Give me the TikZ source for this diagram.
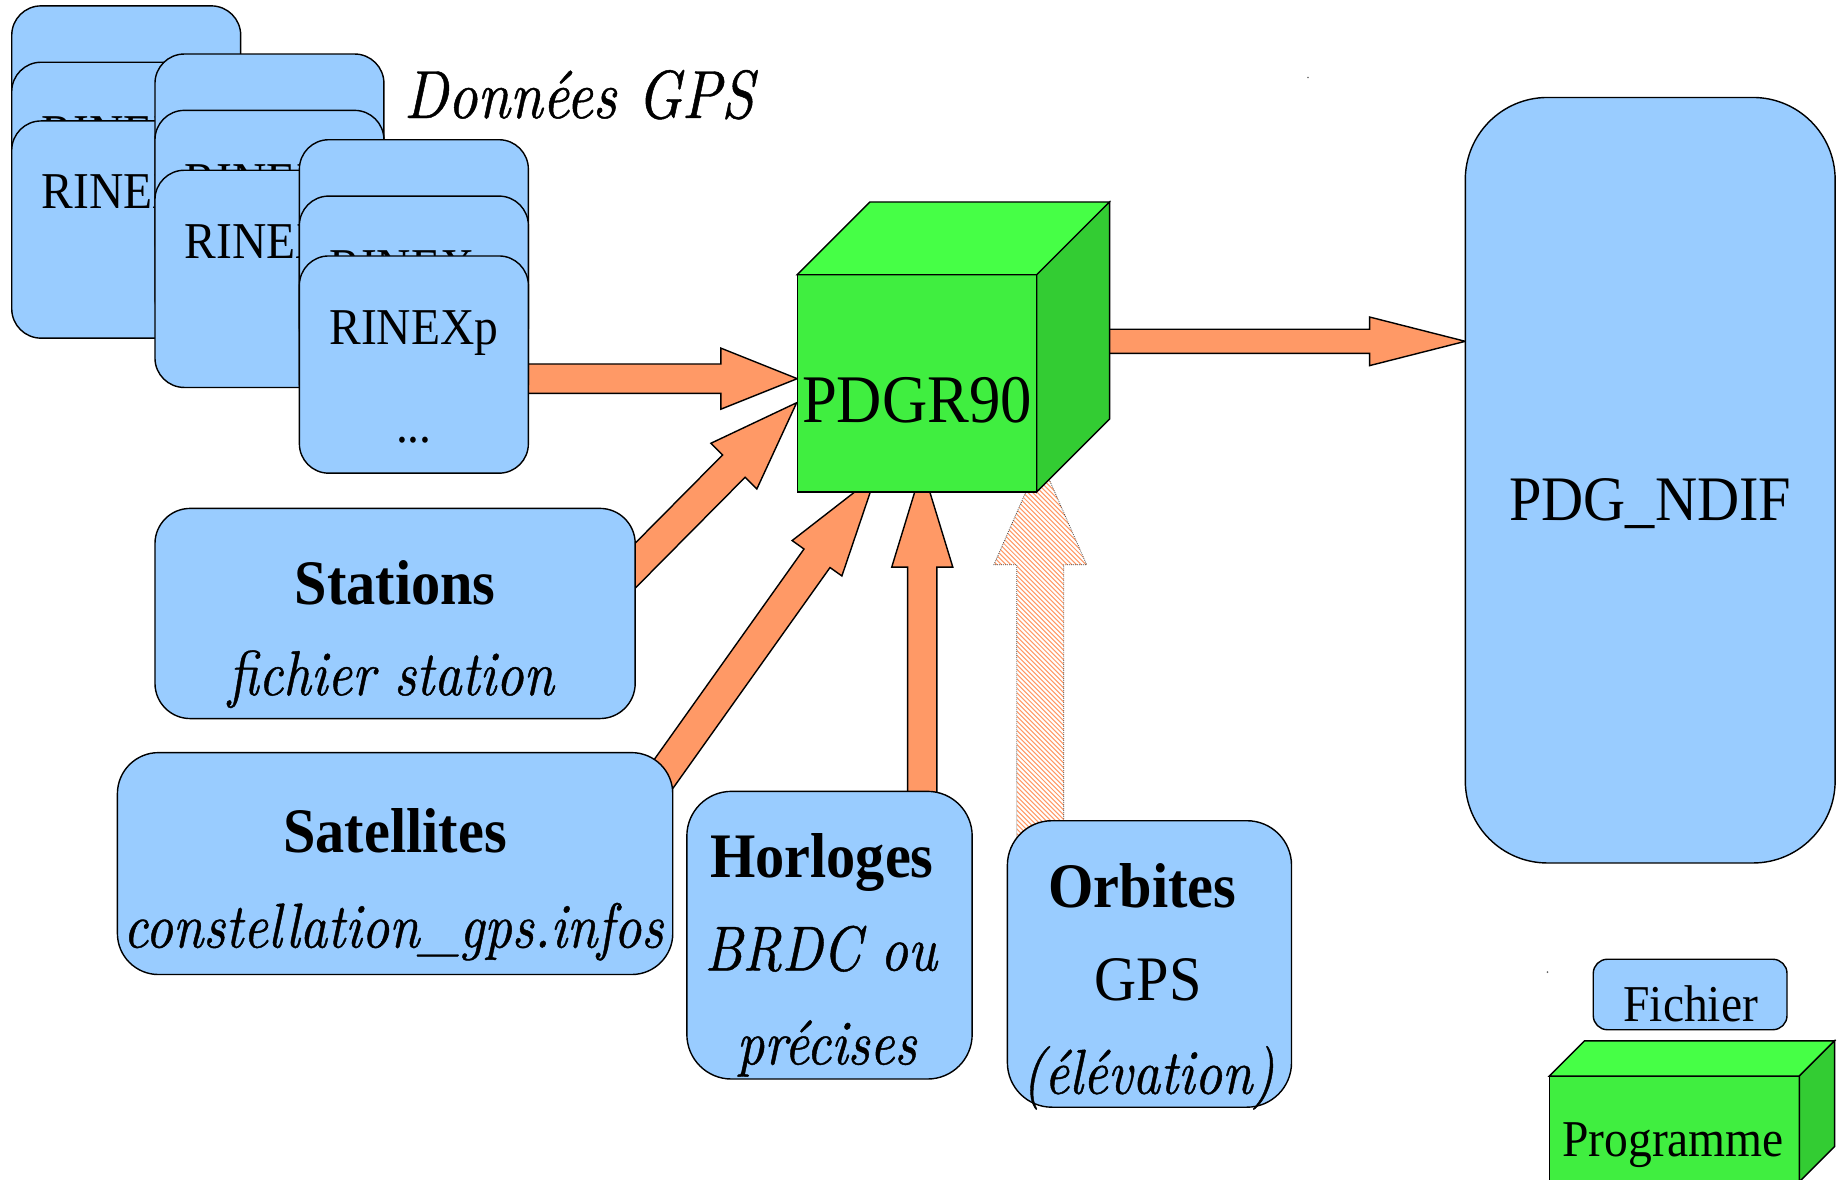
\documentclass[tikz,border=0pt]{standalone}
\usepackage{fontspec}
\setmainfont{Liberation Serif}[FakeStretch=0.92]
\newfontfamily\itfont{lmroman10-italic.otf}[FakeStretch=0.85, FakeBold=0.7]
\usetikzlibrary{calc}
\definecolor{fileblue}{RGB}{153,204,255}
\definecolor{arroworange}{RGB}{255,153,102}
\definecolor{cubetop}{RGB}{70,255,70}
\definecolor{cubefront}{RGB}{64,238,64}
\definecolor{cubeside}{RGB}{51,204,51}
\newcommand{\setfs}[1]{\fontsize{#1}{#1}\selectfont}
% #1 path command, #2 start, #3 tip, #4 shaft half width, #5 head half width, #6 head length
\newcommand{\blockarrow}[6]{%
  \coordinate (bahb) at ($(#3)!#6!(#2)$);
  #1 ($(#2)!#4!90:(#3)$) -- ($(bahb)!#4!-90:(#2)$) -- ($(bahb)!#5!-90:(#2)$)
    -- (#3) -- ($(bahb)!#5!90:(#2)$) -- ($(bahb)!#4!90:(#2)$) -- ($(#2)!#4!-90:(#3)$) -- cycle;
}
\tikzset{
  filebox/.style={draw=black, line width=1.2pt, fill=fileblue, rectangle, anchor=north west, inner sep=0pt, outer sep=0pt},
  cubeface/.style={draw=black, line width=1.2pt, line join=miter},
  txt/.style={inner sep=0pt, anchor=base},
  arrowfill/.style={draw=black, line width=1.2pt, fill=arroworange, line join=miter},
  hatchline/.style={draw=arroworange, line width=0.9pt},
  hatchoutline/.style={draw=black!70, densely dotted, line width=0.7pt},
}
\begin{document}
\begin{tikzpicture}[x=1pt,y=-1pt]
\path[use as bounding box, fill=white] (0,0) rectangle (1568,1005);
\clip (0,0) rectangle (1568,1005);

% ---------- connector end points ----------
\coordinate (a1s) at (430,322.5);   \coordinate (a1t) at (679,322.5);
\coordinate (a2s) at (495.5,527.7); \coordinate (a2t) at (678.5,343);
\coordinate (a3s) at (554.6,674);   \coordinate (a3t) at (746,405);
\coordinate (a4s) at (785.5,720);   \coordinate (a4t) at (785.5,398);
\coordinate (a5s) at (930,290.7);   \coordinate (a5t) at (1248,290.7);
\coordinate (a6s) at (886,720);     \coordinate (a6t) at (886,391);

% ---------- arrows (drawn under the boxes) ----------
\blockarrow{\path[arrowfill]}{a1s}{a1t}{12.5pt}{26pt}{65pt}
\blockarrow{\path[arrowfill]}{a2s}{a2t}{13.5pt}{27.6pt}{76pt}
\blockarrow{\path[arrowfill]}{a3s}{a3t}{13.6pt}{26pt}{86.5pt}
\blockarrow{\path[arrowfill]}{a4s}{a4t}{12.5pt}{26pt}{85pt}
\blockarrow{\path[arrowfill]}{a5s}{a5t}{10.3pt}{20.7pt}{81.5pt}
% hatched arrow (Orbites)
\begin{scope}
  \blockarrow{\clip}{a6s}{a6t}{20pt}{39.5pt}{90pt}
  \foreach \k in {0,...,200}{
    \draw[hatchline] (740+4*\k-400,300) -- ++(450,450);
  }
\end{scope}
\blockarrow{\path[hatchoutline]}{a6s}{a6t}{20pt}{39.5pt}{90pt}

% ---------- RINEX stacks ----------
\foreach \nm/\x/\y/\lab in {A1/10/5/0, A2/10/53/1, A3/10/103/1,
                            B1/132/46/0, B2/132/94/1, B3/132/145/1,
                            C1/255/119/0, C2/255/167/1, C3/255/218/1}{
  \node[filebox, minimum width=195pt, minimum height=185pt, rounded corners=25pt] (\nm) at (\x,\y) {};
  \ifnum\lab=1
    \node[txt, font=\setfs{44}] (\nm t) at ($(\nm.north)+(0,75)$) {RINEXp};
  \fi
}
\node[txt, font=\setfs{44}] (C3dots) at ($(C3.north)+(0,159)$) {...};

\node[txt, anchor=base west, font=\itfont\setfs{58}] (donnees) at (344,100.5) {Données GPS};

% ---------- input files ----------
\node[filebox, minimum width=409pt, minimum height=179pt, rounded corners=30pt] (stations) at (132,433) {};
\node[txt, font=\bfseries\setfs{54}] (stationsA) at (336.5,514.5) {Stations};
\node[txt, font=\itfont\setfs{54}] (stationsB) at (333,592) {fichier station};

\node[filebox, minimum width=473pt, minimum height=189pt, rounded corners=35pt] (satellites) at (100,641) {};
\node[txt, font=\bfseries\setfs{54}] (satA) at (336.5,726) {Satellites};
\node[txt, font=\itfont\setfs{54}] (satB) at (335,807) {constellation\_gps.infos};

\node[filebox, minimum width=243pt, minimum height=245pt, rounded corners=38pt] (horloges) at (585,674) {};
\node[txt, font=\bfseries\setfs{54}] (horA) at (700,747.5) {Horloges};
\node[txt, font=\itfont\setfs{54}] (horB) at (699,826.5) {BRDC ou};
\node[txt, font=\itfont\setfs{54}] (horC) at (704,906.5) {précises};

\node[filebox, minimum width=242pt, minimum height=244pt, rounded corners=38pt] (orbites) at (858,699) {};
\node[txt, font=\bfseries\setfs{54}] (orbA) at (973,773) {Orbites};
\node[txt, font=\setfs{54}] (orbB) at (978,852) {GPS};
\node[txt, font=\itfont\setfs{54}] (orbC) at (978,931.5) {(élévation)};

% ---------- program cube PDGR90 ----------
\node[cubeface, fill=cubefront, rectangle, anchor=north west, minimum width=204pt, minimum height=185pt, inner sep=0pt, outer sep=0pt] (pdgr) at (679,234) {};
\path[cubeface, fill=cubetop] (pdgr.north west) -- ++(62,-62) -- ++(204,0) -- (pdgr.north east) -- cycle;
\path[cubeface, fill=cubeside] (pdgr.north east) -- ++(62,-62) -- ++(0,185) -- (pdgr.south east) -- cycle;
\node[txt, font=\setfs{58}] (pdgrlab) at (781,360) {PDGR90};

% ---------- output file ----------
\node[filebox, minimum width=315pt, minimum height=652pt, rounded corners=70pt] (ndif) at (1248,83) {};
\node[txt, font=\setfs{54}] (ndiflab) at (1405.5,443) {PDG\_NDIF};

% ---------- legend ----------
\node[filebox, minimum width=165pt, minimum height=60pt, rounded corners=12pt] (legfile) at (1357,817) {};
\node[txt, font=\setfs{44}] (legfilelab) at (1440,870.4) {Fichier};

\node[cubeface, fill=cubefront, rectangle, anchor=north west, minimum width=213pt, minimum height=90pt, inner sep=0pt, outer sep=0pt] (legprog) at (1319.5,916.5) {};
\path[cubeface, fill=cubetop] (legprog.north west) -- ++(30,-30) -- ++(213,0) -- (legprog.north east) -- cycle;
\path[cubeface, fill=cubeside] (legprog.north east) -- ++(30,-30) -- ++(0,90) -- (legprog.south east) -- cycle;
\node[txt, font=\setfs{44}] (legproglab) at (1425,985.4) {Programme};

% ---------- specks ----------
\fill[black!60] (1114,66) circle (0.8pt);
\fill[black!60] (1318,828) circle (0.8pt);
\end{tikzpicture}
\end{document}
